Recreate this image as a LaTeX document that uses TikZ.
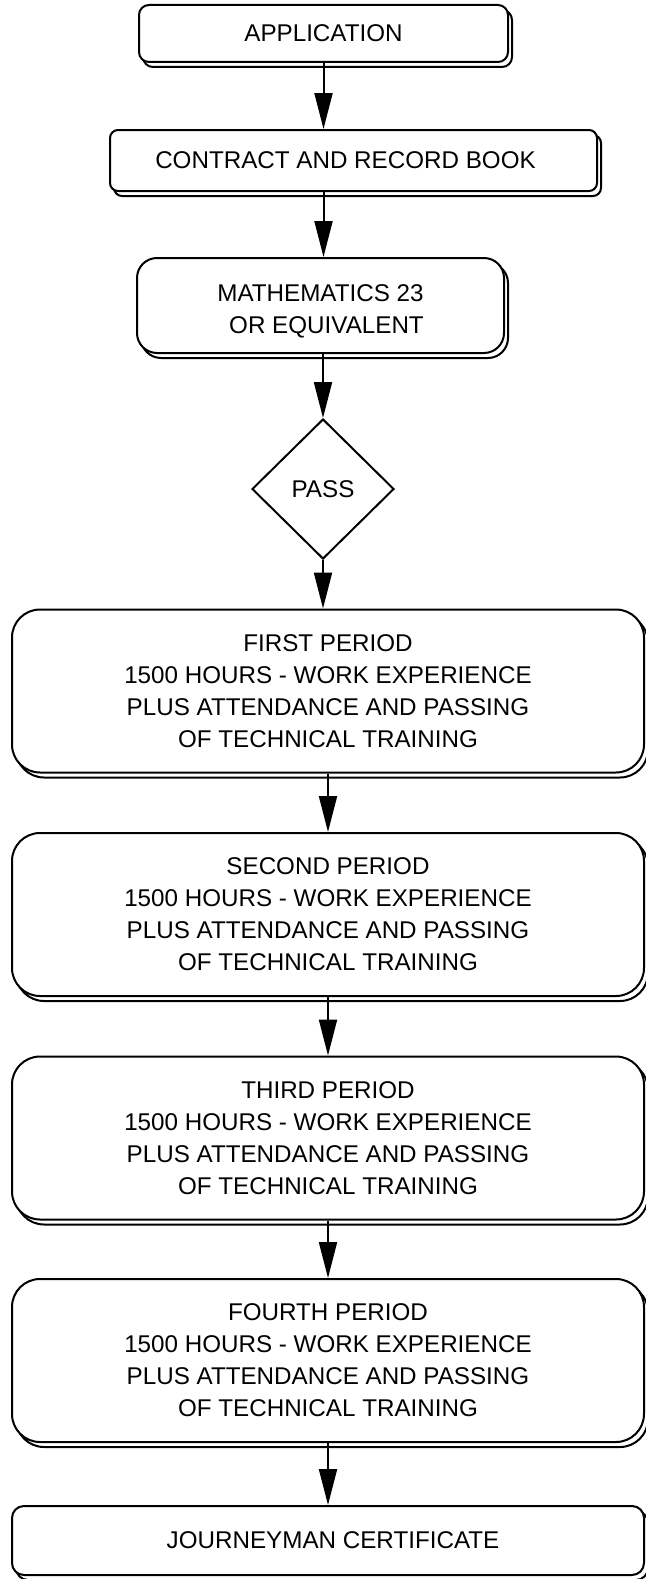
\documentclass[tikz,border=0pt]{standalone}
\usepackage{fontspec}
\setmainfont{Liberation Sans}
\usepackage{tikz}
\usetikzlibrary{arrows.meta,shapes.geometric,shadows}

\begin{document}
\begin{tikzpicture}[x=1pt,y=-1pt]
			\tikzstyle{every node} = [font=\fontsize{24.2}{32}\selectfont, align=center, inner sep=0pt]
			\tikzstyle{stage} = [draw, fill=white, line width=2pt, rectangle,
				general shadow={shadow xshift=4pt, shadow yshift=-5pt, draw=black, fill=white, line width=2pt}]
			\tikzstyle{period} = [stage, minimum width=632pt, minimum height=163pt, rounded corners=28pt]
			\tikzstyle{test} = [draw, fill=white, line width=2pt, diamond, minimum width=142pt, minimum height=140pt]
			\tikzstyle{flow} = [line width=2pt, -{Triangle[length=36pt, width=18pt]}]
			\useasboundingbox (0,0) rectangle (645,1579);
			\node[stage, minimum width=369pt, minimum height=57pt, rounded corners=10pt] (app) at (323.5,33.5) {APPLICATION};
			\node[stage, minimum width=487pt, minimum height=61pt, rounded corners=8pt] (contract) at (353.5,160.5) {CONTRACT AND RECORD BOOK\hspace*{16pt}};
			\node[stage, minimum width=367pt, minimum height=95pt, rounded corners=20pt] (math) at (320.5,305.5) {\rule{0pt}{28pt}MATHEMATICS 23\\\hspace*{12pt}OR EQUIVALENT};
			\node[test] (pass) at (323,489) {PASS};
			\node[period] (first) at (328,691) {FIRST PERIOD\\1500 HOURS - WORK EXPERIENCE\\PLUS ATTENDANCE AND PASSING\\OF TECHNICAL TRAINING};
			\node[period] (second) at (328,914.5) {SECOND PERIOD\\1500 HOURS - WORK EXPERIENCE\\PLUS ATTENDANCE AND PASSING\\OF TECHNICAL TRAINING};
			\node[period] (third) at (328,1138) {THIRD PERIOD\\1500 HOURS - WORK EXPERIENCE\\PLUS ATTENDANCE AND PASSING\\OF TECHNICAL TRAINING};
			\node[period] (fourth) at (328,1360.5) {FOURTH PERIOD\\1500 HOURS - WORK EXPERIENCE\\PLUS ATTENDANCE AND PASSING\\OF TECHNICAL TRAINING};
			\node[stage, minimum width=632pt, minimum height=69pt, rounded corners=12pt] (cert) at (328,1540.5) {\hspace*{10pt}JOURNEYMAN CERTIFICATE};
			\draw[flow] (app.south) -- (app.south |- contract.north);
			\draw[flow] (app.south |- contract.south) -- (app.south |- math.north);
			\draw[flow] (pass.north |- math.south) -- (pass.north);
			\draw[flow] (pass.south) -- (pass.south |- first.north);
			\draw[flow] (first.south) -- (second.north);
			\draw[flow] (second.south) -- (third.north);
			\draw[flow] (third.south) -- (fourth.north);
			\draw[flow] (fourth.south) -- (cert.north);
\end{tikzpicture}
\end{document}
